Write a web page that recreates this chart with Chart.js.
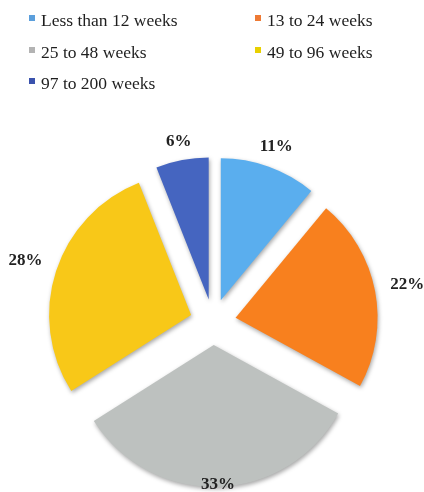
<!DOCTYPE html>
<html lang="en">
<head>
<meta charset="UTF-8">
<title>Duration of stay</title>
<style>
  body { margin: 0; background: #fff; }
</style>
</head>
<body>
<canvas id="chart" width="424" height="492"></canvas>
<script src="https://cdn.jsdelivr.net/npm/chart.js"></script>
<script>
// share of people by length of wait
const categories = ['Less than 12 weeks', '13 to 24 weeks', '25 to 48 weeks', '49 to 96 weeks', '97 to 200 weeks'];
const shares = [11, 22, 33, 28, 6];
const sliceColors = ['#5aaeee', '#f8801e', '#bdc1bf', '#f8c818', '#4565c0'];
const legendColors = ['#5b9fdc', '#ee7a34', '#b3b3b3', '#e8d000', '#3a52ad'];

const SERIF = '"Liberation Serif", "Times New Roman", serif';
const EXPLODE = 23; // how far every slice is pulled away from the centre

// move each slice out along its middle angle by the same distance
const explode = {
  id: 'explode',
  afterDatasetUpdate(chart, args) {
    args.meta.data.forEach(arc => {
      const mid = (arc.startAngle + arc.endAngle) / 2;
      arc.x += Math.cos(mid) * EXPLODE;
      arc.y += Math.sin(mid) * EXPLODE;
    });
  }
};

// percent labels just outside each slice, pulled inside when there is no room
const pctLabels = {
  id: 'pctLabels',
  afterDatasetsDraw(chart) {
    const ctx = chart.ctx;
    const arcs = chart.getDatasetMeta(0).data;
    ctx.save();
    ctx.font = 'bold 17px ' + SERIF;
    ctx.fillStyle = '#222';
    ctx.textAlign = 'center';
    ctx.textBaseline = 'middle';
    arcs.forEach((arc, i) => {
      const text = shares[i] + '%';
      const w = ctx.measureText(text).width;
      const mid = (arc.startAngle + arc.endAngle) / 2;
      let d = arc.outerRadius + 16 + Math.abs(Math.cos(mid)) * w / 2;
      if (arc.y + Math.sin(mid) * d + 8 > chart.height) {
        d = arc.outerRadius - 2;
      }
      ctx.fillText(text, arc.x + Math.cos(mid) * d, arc.y + Math.sin(mid) * d);
    });
    ctx.restore();
  }
};

// soft drop shadow under the slices
const sliceShadow = {
  id: 'sliceShadow',
  beforeDatasetDraw(chart) {
    const ctx = chart.ctx;
    ctx.save();
    ctx.shadowColor = 'rgba(0,0,0,0.35)';
    ctx.shadowBlur = 4;
    ctx.shadowOffsetX = 1;
    ctx.shadowOffsetY = 2;
  },
  afterDatasetDraw(chart) {
    chart.ctx.restore();
  }
};

// legend in two columns across the top
const gridLegend = {
  id: 'gridLegend',
  afterDraw(chart) {
    const ctx = chart.ctx;
    const colX = [29, 255];
    const rowY = [18, 50, 81];
    ctx.save();
    ctx.font = '17.5px ' + SERIF;
    ctx.textBaseline = 'middle';
    categories.forEach((name, i) => {
      const x = colX[i % 2];
      const y = rowY[Math.floor(i / 2)];
      ctx.fillStyle = legendColors[i];
      ctx.fillRect(x, y - 3, 6, 6);
      ctx.fillStyle = '#1e1e1e';
      ctx.fillText(name, x + 12, y + 3);
    });
    ctx.restore();
  }
};

new Chart(document.getElementById('chart'), {
  type: 'pie',
  data: {
    labels: categories,
    datasets: [{
      data: shares,
      backgroundColor: sliceColors,
      borderWidth: 0,
      clip: false
    }]
  },
  options: {
    responsive: false,
    animation: false,
    radius: 142,
    layout: { padding: { left: 48, right: 46, top: 157, bottom: 5 } },
    plugins: {
      legend: { display: false },
      tooltip: { enabled: false }
    }
  },
  plugins: [explode, sliceShadow, pctLabels, gridLegend]
});
</script>
</body>
</html>
